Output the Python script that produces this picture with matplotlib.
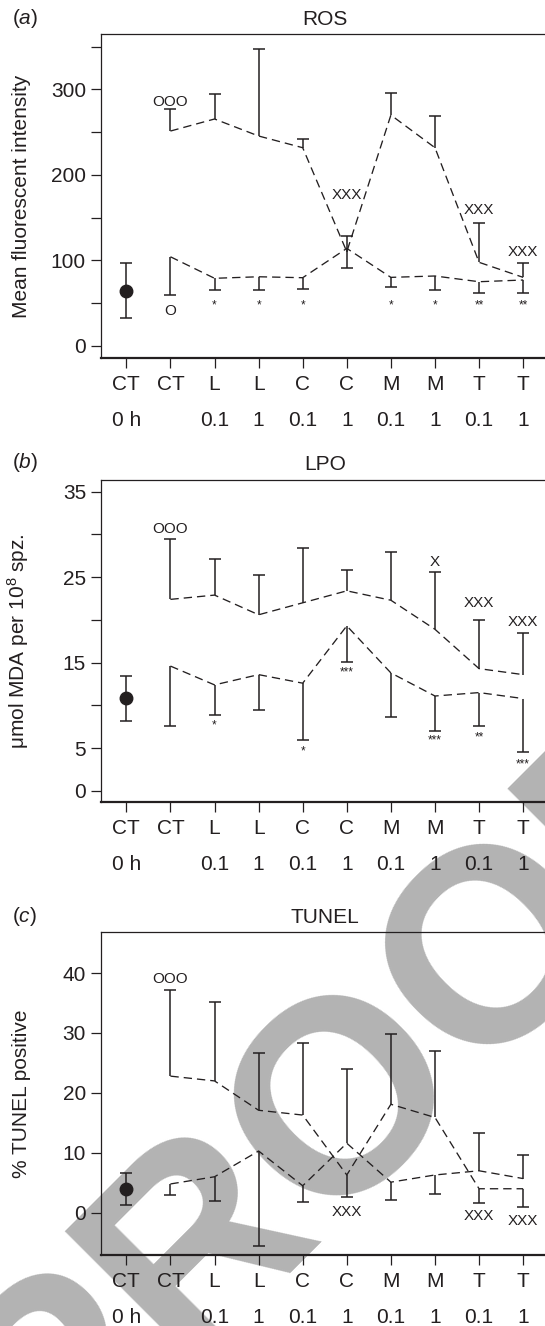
import matplotlib
matplotlib.use('Agg')
import matplotlib.pyplot as plt
import numpy as np

plt.rcParams['font.family'] = ['Liberation Sans', 'DejaVu Sans']
plt.rcParams['mathtext.fontset'] = 'custom'
plt.rcParams['mathtext.rm'] = 'Liberation Sans'
plt.rcParams['mathtext.it'] = 'Liberation Sans:italic'
plt.rcParams['lines.scale_dashes'] = False

INK = '#231f20'
FS = 15

# ---------------- data ----------------
groups = ['CT', 'CT', 'L', 'L', 'C', 'C', 'M', 'M', 'T', 'T']
doses = ['0 h', '', '0.1', '1', '0.1', '1', '0.1', '1', '0.1', '1']

# (a) ROS
ros_ctrl = [64.1, 32.2, 96.5]          # mean, low, high
ros_a_mean = [251.3, 265.4, 245.5, 231.8, 110.1, 270.0, 231.8, 97.7, 80.1]
ros_a_end = [276.7, 294.6, 346.9, 242.3, 128.5, 296.1, 269.2, 143.7, 96.9]
ros_b_mean = [104.2, 79.0, 80.8, 79.7, 114.0, 80.1, 81.7, 75.0, 77.0]
ros_b_end = [59.4, 65.3, 65.3, 66.1, 90.7, 69.1, 65.3, 62.1, 62.1]
ros_mark_pos = [2, 2, 3, 4, 5, 7, 8, 9, 10, 6, 9, 10]
ros_mark_txt = ['OOO', 'O', '*', '*', '*', '*', '*', '**', '**', 'XXX', 'XXX', 'XXX']
ros_mark_y = [285.6, 41.1, 47.7, 47.7, 47.7, 47.7, 47.7, 47.7, 47.7, 176.4, 158.9, 110.1]

# (b) LPO
lpo_ctrl = [10.83, 8.2, 13.45]
lpo_a_mean = [22.4, 22.9, 20.6, 22.0, 23.4, 22.3, 18.9, 14.3, 13.6]
lpo_a_end = [29.5, 27.1, 25.2, 28.4, 25.8, 27.9, 25.6, 20.0, 18.45]
lpo_b_mean = [14.6, 12.4, 13.6, 12.6, 19.3, 13.8, 11.1, 11.5, 10.8]
lpo_b_end = [7.6, 8.9, 9.5, 6.0, 15.1, 8.7, 7.0, 7.6, 4.6]
lpo_mark_pos = [2, 8, 9, 10, 3, 5, 6, 8, 9, 10]
lpo_mark_txt = ['OOO', 'X', 'XXX', 'XXX', '*', '*', '***', '***', '**', '***']
lpo_mark_y = [30.6, 26.8, 22.0, 19.7, 7.7, 4.6, 13.8, 5.9, 6.3, 3.15]

# (c) TUNEL
tun_ctrl = [3.9, 1.3, 6.7]
tun_a_mean = [22.8, 22.0, 17.1, 16.3, 6.3, 18.1, 15.9, 4.0, 4.0]
tun_a_end = [37.1, 35.1, 26.6, 28.4, 2.6, 29.8, 27.0, 1.7, 0.9]
tun_b_mean = [4.8, 6.0, 10.3, 4.5, 11.6, 5.1, 6.3, 7.0, 5.7]
tun_b_end = [2.9, 1.95, -5.6, 1.8, 24.0, 2.2, 3.2, 13.3, 9.6]
tun_mark_pos = [2, 6, 9, 10]
tun_mark_txt = ['OOO', 'XXX', 'XXX', 'XXX']
tun_mark_y = [39.0, 0.2, -0.6, -1.45]

# ---------------- figure ----------------
W, H = 545, 1326
fig = plt.figure(figsize=(W / 100, H / 100), dpi=100)

# watermark
fig.text(0.7292, 0.1342, 'PROOF', rotation=45, rotation_mode='anchor',
         ha='center', va='baseline', fontsize=198, fontweight='bold',
         family=['Liberation Sans Narrow', 'Liberation Sans'],
         color='#b3b3b3', zorder=-5)

left = 101 / W
width = (548.5 - 101) / W


def panel(top_px, bot_px, ylim, yticks, ylabels, title, letter, title_y,
          ylabel, ctrl, a_mean, a_end, b_mean, b_end, mpos, mtxt, my):
    ax = fig.add_axes([left, 1 - bot_px / H, width, (bot_px - top_px) / H])
    ax.set_facecolor('none')
    x = np.arange(1, len(groups) + 1)
    xs = x[1:]
    dash = (0, (6.0, 3.6))
    ax.plot(xs, a_mean, ls=dash, lw=0.95, color=INK)
    ax.plot(xs, b_mean, ls=dash, lw=0.95, color=INK)
    ax.vlines(xs, a_mean, a_end, color=INK, lw=1.1)
    ax.vlines(xs, b_mean, b_end, color=INK, lw=1.1)
    ax.plot(xs, a_end, ls='none', marker='_', ms=8.6, mew=1.1, color=INK)
    ax.plot(xs, b_end, ls='none', marker='_', ms=8.6, mew=1.1, color=INK)
    # control 0 h
    ax.vlines(x[0], ctrl[1], ctrl[2], color=INK, lw=1.1)
    ax.plot([x[0], x[0]], ctrl[1:], ls='none', marker='_', ms=8.6, mew=1.1, color=INK)
    ax.plot(x[0], ctrl[0], 'o', ms=9, color=INK)
    for p, t, yv in zip(mpos, mtxt, my):
        fs = 8.5 if '*' in t else 11
        ax.text(p, yv, t, ha='center', va='center', fontsize=fs, color=INK)
    ax.set_xlim(0.425, 10.575)
    ax.set_ylim(*ylim)
    ax.set_xticks(x)
    ax.set_xticklabels(groups, fontsize=FS, color=INK)
    for xi, d in zip(x, doses):
        ax.annotate(d, xy=(xi, 0), xycoords=('data', 'axes fraction'),
                    xytext=(0, -45), textcoords='offset points',
                    ha='center', va='center', fontsize=FS, color=INK,
                    annotation_clip=False)
    ax.set_yticks(yticks)
    ax.set_yticklabels(ylabels, fontsize=FS, color=INK)
    ax.tick_params(axis='both', length=7.2, width=0.9, color=INK)
    ax.tick_params(axis='x', pad=5)
    ax.tick_params(axis='y', pad=3.6)
    for s in ax.spines.values():
        s.set_linewidth(0.9)
        s.set_color(INK)
    ax.spines['bottom'].set_linewidth(1.6)
    ax.set_title(title, fontsize=FS, color=INK, pad=7)
    fig.text(12 / W, 1 - title_y / H, letter, ha='left', va='center',
             fontsize=FS, color=INK)
    ax.set_ylabel(ylabel, fontsize=FS, color=INK)
    ax.yaxis.set_label_coords((31 - 101) / (548.5 - 101), 0.5)
    return ax


panel(34.3, 357.7, (-13.9, 364.5), [0, 50, 100, 150, 200, 250, 300, 350],
      ['0', '', '100', '', '200', '', '300', ''], 'ROS', r'($\it{a}$)', 18.8,
      'Mean fluorescent intensity', ros_ctrl, ros_a_mean, ros_a_end,
      ros_b_mean, ros_b_end, ros_mark_pos, ros_mark_txt, ros_mark_y)

panel(480, 802.3, (-1.33, 36.36), [0, 5, 10, 15, 20, 25, 30, 35],
      ['0', '5', '', '15', '', '25', '', '35'], 'LPO', r'($\it{b}$)', 463,
      r'μmol MDA per 10$^{8}$ spz.', lpo_ctrl, lpo_a_mean, lpo_a_end,
      lpo_b_mean, lpo_b_end, lpo_mark_pos, lpo_mark_txt, lpo_mark_y)

panel(932.3, 1255, (-7.06, 46.81), [0, 10, 20, 30, 40],
      ['0', '10', '20', '30', '40'], 'TUNEL', r'($\it{c}$)', 916,
      '% TUNEL positive', tun_ctrl, tun_a_mean, tun_a_end,
      tun_b_mean, tun_b_end, tun_mark_pos, tun_mark_txt, tun_mark_y)

fig.savefig('out.png', dpi=100)
